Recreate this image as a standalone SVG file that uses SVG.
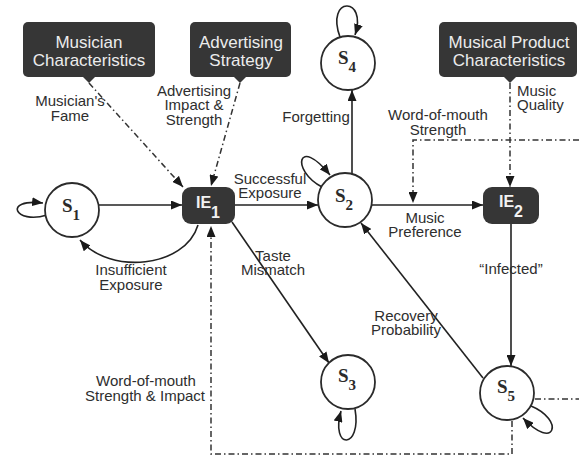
<svg xmlns="http://www.w3.org/2000/svg" width="579" height="462" viewBox="0 0 579 462">
<defs>
<style>
.box{fill:#363636;}
.btxt{font-family:"Liberation Sans",Arial,sans-serif;font-size:17px;fill:#ececec;text-anchor:middle;}
.lbl{font-family:"Liberation Sans",Arial,sans-serif;font-size:15px;fill:#2e2e2e;text-anchor:middle;}
.st{fill:#fff;stroke:#2b2b2b;stroke-width:1.8;}
.stxt{font-family:"Liberation Serif","Times New Roman",serif;font-size:19px;font-weight:bold;fill:#2b2b2b;text-anchor:middle;}
.ie{fill:#363636;}
.ietxt{font-family:"Liberation Sans",Arial,sans-serif;font-size:16px;font-weight:bold;fill:#f2f2f2;text-anchor:middle;}
.ln{fill:none;stroke:#222;stroke-width:1.6;marker-end:url(#a);}
.dd{fill:none;stroke:#333;stroke-width:1.5;stroke-dasharray:6 3 1.5 3;}
.dda{fill:none;stroke:#333;stroke-width:1.5;stroke-dasharray:6 3 1.5 3;marker-end:url(#a);}
</style>
<marker id="a" viewBox="0 0 11 9" refX="11" refY="4.5" markerWidth="11" markerHeight="9" markerUnits="userSpaceOnUse" orient="auto"><path d="M0,0 L11,4.5 L0,9 z" fill="#1a1a1a"/></marker>
</defs>
<rect width="579" height="462" fill="#fff"/>

<g id="musician-characteristics">
<rect class="box" x="23" y="22" width="132" height="55" rx="5"/>
<path class="box" d="M83,77 L95,77 L89,83 z"/>
<text class="btxt" x="89" y="48">Musician</text>
<text class="btxt" x="89" y="66">Characteristics</text>
</g>
<g id="advertising-strategy">
<rect class="box" x="190" y="22" width="101" height="55" rx="5"/>
<path class="box" d="M234,77 L246,77 L240,83 z"/>
<text class="btxt" x="241" y="48">Advertising</text>
<text class="btxt" x="241" y="66">Strategy</text>
</g>
<g id="musical-product-characteristics">
<rect class="box" x="439" y="22" width="138" height="55" rx="5"/>
<path class="box" d="M504,77 L516,77 L510,83 z"/>
<text class="btxt" x="509" y="48">Musical Product</text>
<text class="btxt" x="509" y="66">Characteristics</text>
</g>

<g id="connectors">
<path class="ln" d="M47,215 C15,225 2,198 43,203"/>
<path class="ln" d="M99,205 L182,205"/>
<path class="ln" d="M198,225 C185,268 110,275 80,240"/>
<path class="ln" d="M235,205 L318,205"/>
<path class="ln" d="M322,187 C290,170 298,135 330,175"/>
<path class="ln" d="M372,205 L483,205"/>
<path class="ln" d="M352,175 L352,90"/>
<path class="ln" d="M340,37 C325,-4 368,-4 355,35"/>
<path class="ln" d="M232,222 L329,363"/>
<path class="ln" d="M355,409 C362,450 330,450 341,411"/>
<path class="ln" d="M511,224 L511,366"/>
<path class="ln" d="M483,378 L361,223"/>
<path class="ln" d="M531,406 C565,420 555,452 523,418"/>
<path class="dda" d="M89,83 L183,187"/>
<path class="dda" d="M240,83 L211,186"/>
<path class="dda" d="M510,83 L510,187"/>
<path class="dda" d="M579,140 L413,140 L413,203"/>
<path class="dd" d="M535,399 L579,399"/>
<path class="dda" d="M512,421 L512,454 L211,454 L211,226"/>
</g>

<g id="labels">
<text class="lbl" x="70" y="106">Musician's</text>
<text class="lbl" x="70" y="121">Fame</text>
<text class="lbl" x="194" y="96">Advertising</text>
<text class="lbl" x="194" y="110">Impact &amp;</text>
<text class="lbl" x="194" y="125">Strength</text>
<text class="lbl" x="316" y="122">Forgetting</text>
<text class="lbl" x="438" y="120">Word-of-mouth</text>
<text class="lbl" x="438" y="135">Strength</text>
<text class="lbl" x="517" y="96" style="text-anchor:start">Music</text>
<text class="lbl" x="517" y="110" style="text-anchor:start">Quality</text>
<text class="lbl" x="270" y="184">Successful</text>
<text class="lbl" x="270" y="198">Exposure</text>
<text class="lbl" x="425" y="223">Music</text>
<text class="lbl" x="425" y="237">Preference</text>
<text class="lbl" x="273" y="261">Taste</text>
<text class="lbl" x="273" y="275">Mismatch</text>
<text class="lbl" x="131" y="275">Insufficient</text>
<text class="lbl" x="131" y="290">Exposure</text>
<text class="lbl" x="511" y="274">“Infected”</text>
<text class="lbl" x="406" y="321">Recovery</text>
<text class="lbl" x="406" y="335">Probability</text>
<text class="lbl" x="146" y="386">Word-of-mouth</text>
<text class="lbl" x="145" y="401">Strength &amp; Impact</text>
</g>

<g id="s1"><circle class="st" cx="72" cy="210" r="27"/><text class="stxt" x="71" y="212">S<tspan font-size="15" dy="8">1</tspan></text></g>
<g id="s2"><circle class="st" cx="345" cy="200" r="27"/><text class="stxt" x="344" y="202">S<tspan font-size="15" dy="8">2</tspan></text></g>
<g id="s3"><circle class="st" cx="348" cy="382" r="27"/><text class="stxt" x="347" y="382">S<tspan font-size="15" dy="8">3</tspan></text></g>
<g id="s4"><circle class="st" cx="348" cy="63" r="27"/><text class="stxt" x="347" y="64">S<tspan font-size="15" dy="8">4</tspan></text></g>
<g id="s5"><circle class="st" cx="507" cy="393" r="27"/><text class="stxt" x="506" y="393">S<tspan font-size="15" dy="8">5</tspan></text></g>
<g id="ie1"><rect class="ie" x="182" y="187" width="53" height="37" rx="9"/><text class="ietxt" x="208" y="208">IE<tspan font-size="16" dy="10">1</tspan></text></g>
<g id="ie2"><rect class="ie" x="483" y="187" width="56" height="37" rx="9"/><text class="ietxt" x="511" y="207">IE<tspan font-size="16" dy="10">2</tspan></text></g>
</svg>
